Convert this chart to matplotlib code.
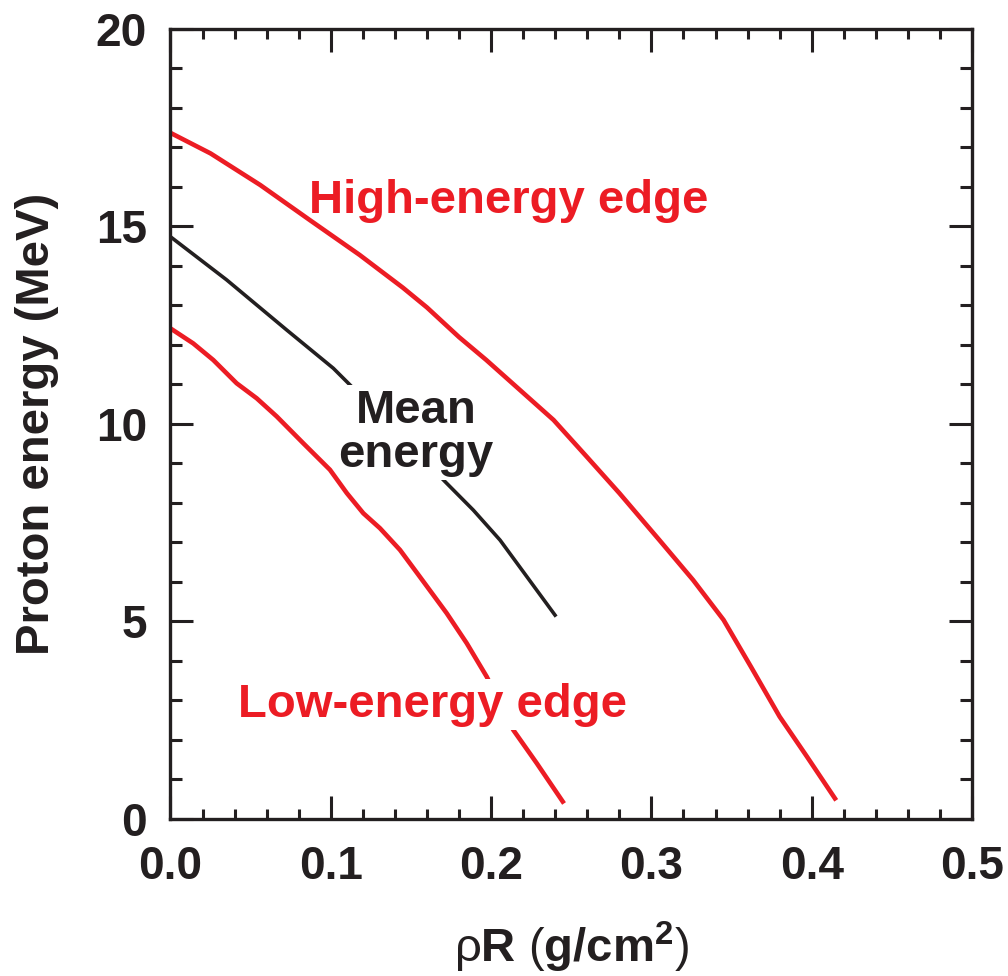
import numpy as np
import matplotlib
matplotlib.use("Agg")
import matplotlib.pyplot as plt
from matplotlib.ticker import MultipleLocator

plt.rcParams['font.family'] = ['Liberation Sans', 'DejaVu Sans']
plt.rcParams['mathtext.fontset'] = 'custom'
plt.rcParams['mathtext.rm'] = 'Liberation Sans'
plt.rcParams['mathtext.bf'] = 'Liberation Sans:bold'

RED = '#ec1c24'
INK = '#231f20'

# Curves (rhoR in g/cm^2, energy in MeV)
high_rr = [0.0, 0.025, 0.056, 0.087, 0.118, 0.145, 0.16, 0.18, 0.197, 0.239,
           0.2597, 0.28, 0.305, 0.326, 0.345, 0.362, 0.38, 0.397, 0.4145]
high_e = [17.37, 16.85, 16.05, 15.16, 14.28, 13.45, 12.95, 12.2, 11.62, 10.10,
          9.17, 8.25, 7.06, 6.05, 5.04, 3.86, 2.59, 1.58, 0.52]

mean_rr = [0.0, 0.035, 0.0725, 0.1016, 0.11, 0.14, 0.1713, 0.1889, 0.2056, 0.2399]
mean_e = [14.74, 13.65, 12.38, 11.41, 11.07, 9.85, 8.54, 7.82, 7.06, 5.16]

low_rr = [0.0, 0.0142, 0.0267, 0.0413, 0.0538, 0.0663, 0.0829, 0.0995, 0.11,
          0.1203, 0.1307, 0.1432, 0.1556, 0.1723, 0.1848, 0.1973, 0.2139,
          0.2285, 0.2447]
low_e = [12.42, 12.04, 11.62, 11.03, 10.65, 10.19, 9.51, 8.84, 8.25,
         7.74, 7.36, 6.81, 6.13, 5.21, 4.45, 3.60, 2.25, 1.41, 0.44]

fig = plt.figure(figsize=(10.08, 9.76), dpi=100)
ax = fig.add_axes([0.1691, 0.1609, 0.7952, 0.8094])

ax.plot(high_rr, high_e, color=RED, lw=3.3, zorder=2)
ax.plot(mean_rr, mean_e, color=INK, lw=2.6, zorder=2)
# low edge sits above the "Mean energy" mask but under its own label
ax.plot(low_rr, low_e, color=RED, lw=3.3, zorder=4)

box = dict(boxstyle='square,pad=0.08', fc='white', ec='none')
ax.text(0.2112, 15.33, 'High-energy edge', color=RED, fontsize=34,
        fontweight='bold', ha='center', va='baseline', zorder=3)
# baseline of the last line ("energy")
ax.text(0.1531, 8.92, 'Mean\nenergy', color=INK, fontsize=34,
        fontweight='bold', ha='center', va='baseline', linespacing=1.0,
        multialignment='center', bbox=box, zorder=3)
ax.text(0.1634, 2.59, 'Low-energy edge', color=RED, fontsize=34,
        fontweight='bold', ha='center', va='baseline', bbox=box, zorder=5)

ax.set_xlim(0, 0.5)
ax.set_ylim(0, 20)
ax.xaxis.set_major_locator(MultipleLocator(0.1))
ax.xaxis.set_minor_locator(MultipleLocator(0.02))
ax.yaxis.set_major_locator(MultipleLocator(5))
ax.yaxis.set_minor_locator(MultipleLocator(1))
ax.xaxis.set_major_formatter(plt.FuncFormatter(lambda v, p: f'{v:.1f}'))

ax.tick_params(which='both', direction='in', top=True, right=True,
               width=2.2, color=INK, labelcolor=INK, labelsize=33)
ax.tick_params(which='major', length=16.5)
ax.tick_params(axis='x', which='minor', length=7)
ax.tick_params(axis='y', which='minor', length=8.5)
ax.tick_params(axis='x', pad=19)
ax.tick_params(axis='y', pad=17)
for lab in ax.get_xticklabels() + ax.get_yticklabels():
    lab.set_fontweight('bold')
for sp in ax.spines.values():
    sp.set_linewidth(2.4)
    sp.set_color(INK)
    sp.set_zorder(6)

ax.set_xlabel(r'ρ$\mathbf{R}$ ($\mathbf{g/cm^{2}}$)', fontsize=34,
              color=INK, labelpad=22)
ax.set_ylabel('Proton energy (MeV)', fontsize=34, fontweight='bold',
              color=INK, labelpad=26)

fig.savefig('out.png', dpi=100)
